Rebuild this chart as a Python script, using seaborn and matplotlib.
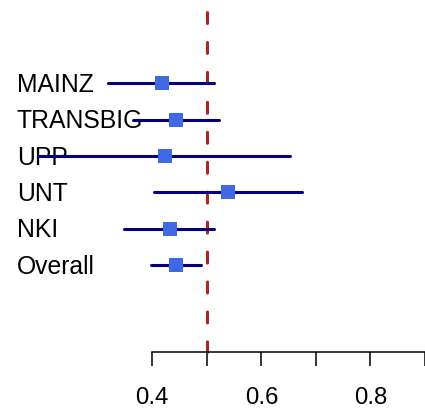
import matplotlib
matplotlib.use("Agg")
import matplotlib.pyplot as plt
import seaborn as sns
import pandas as pd

# Study-level estimates with confidence intervals
studies = ["MAINZ", "TRANSBIG", "UPP", "UNT", "NKI", "Overall"]
estimate = [0.417, 0.444, 0.423, 0.539, 0.432, 0.444]
lower = [0.319, 0.365, 0.192, 0.404, 0.349, 0.398]
upper = [0.513, 0.523, 0.653, 0.675, 0.514, 0.490]
reference = 0.5
tick_values = [0.4, 0.5, 0.6, 0.7, 0.8, 0.9]
tick_labels = ["0.4", "", "0.6", "", "0.8", ""]

sns.set_style("white")
plt.rcParams["font.family"] = ["Liberation Sans", "DejaVu Sans"]

df = pd.DataFrame({"study": studies, "estimate": estimate,
                   "lower": lower, "upper": upper})
df["row"] = range(len(df))

fig = plt.figure(figsize=(4.25, 4.16), dpi=100)
ax = fig.add_axes([0, 0, 1, 1])
ax.set_xlim(0.1208, 0.8978)
ax.set_ylim(9.153, -2.29)

# study names, capitals centred on each row
for _, r in df.iterrows():
    ax.text(0.1513, r["row"] + 0.24, r["study"], ha="left", va="baseline",
            fontsize=17.8, color="black", zorder=1)

# reference line
ax.plot([reference, reference], [-1.97, 7.38], color="#B22222", lw=2.2,
        linestyle=(0, (3.6, 6.2)), dash_capstyle="round", zorder=2)

# confidence intervals
ax.hlines(df["row"], df["lower"], df["upper"], color="#000080", lw=2.2,
          capstyle="round", zorder=3)

# point estimates
sns.scatterplot(data=df, x="estimate", y="row", marker="s", s=100,
                color="#4169E1", edgecolor="none", ax=ax, zorder=4,
                legend=False)

ax.set_xlabel("")
ax.set_ylabel("")
ax.set_yticks([])
for side in ["top", "left", "right"]:
    ax.spines[side].set_visible(False)
ax.spines["bottom"].set_position(("data", 7.384))
ax.spines["bottom"].set_bounds(0.4, 0.9)
ax.spines["bottom"].set_linewidth(1.1)
ax.spines["bottom"].set_color("black")
ax.set_xticks(tick_values)
ax.set_xticklabels(tick_labels)
ax.tick_params(axis="x", direction="out", length=10.3, width=1.1,
               pad=15, labelsize=17.3, colors="black", bottom=True)
ax.patch.set_visible(False)

fig.savefig("out.png", dpi=100, facecolor="white")
